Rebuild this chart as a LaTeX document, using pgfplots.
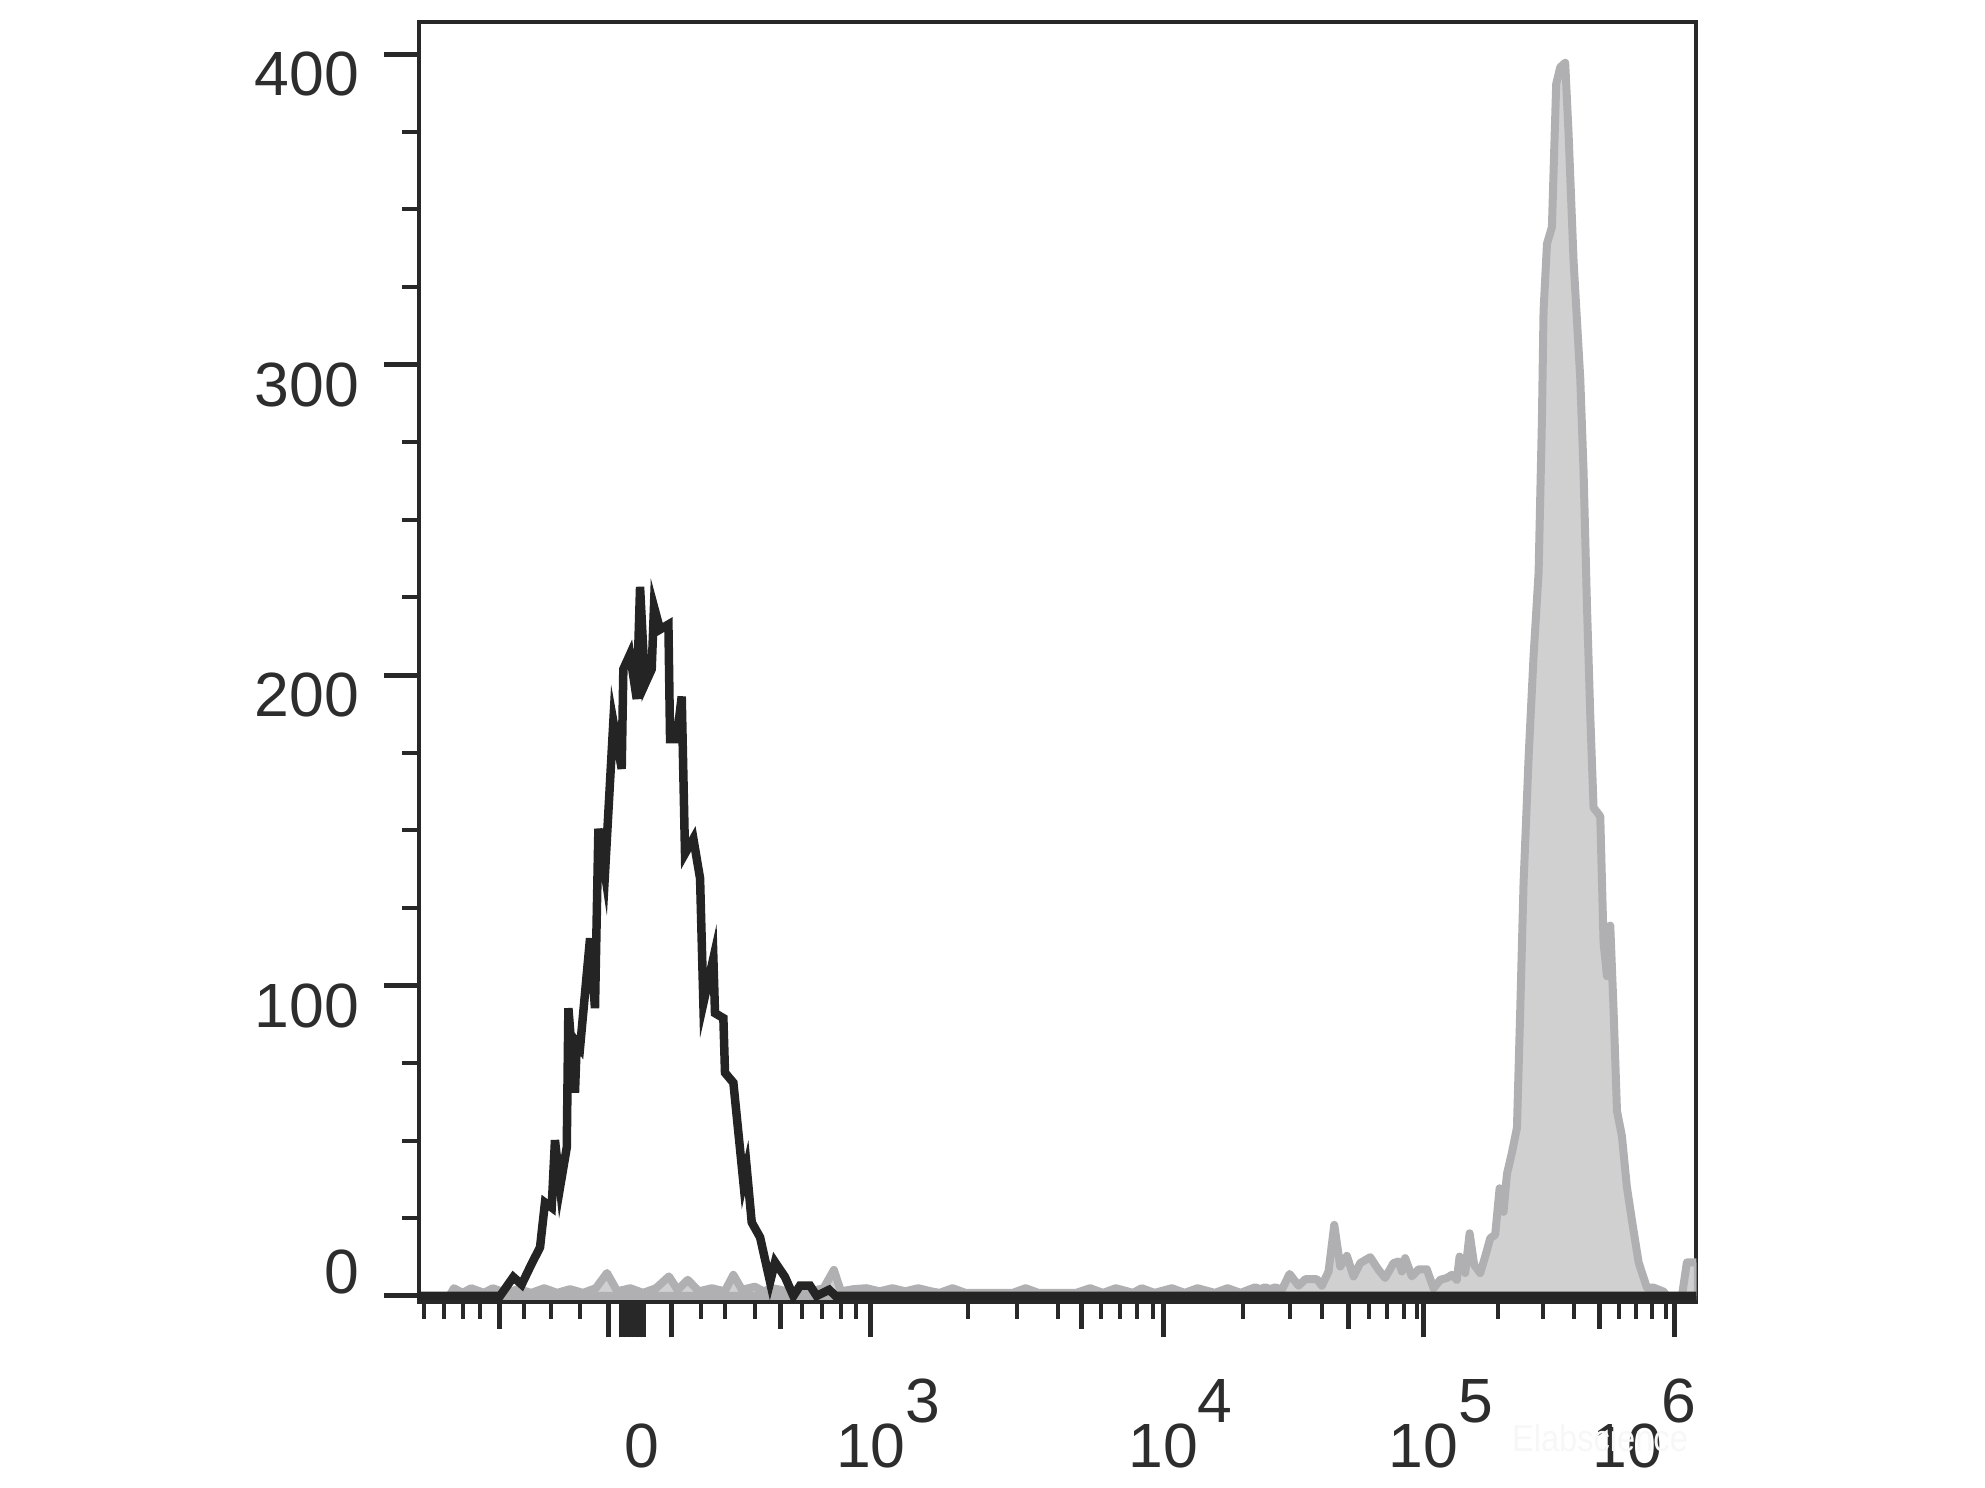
\documentclass[border=0pt]{standalone}
\usepackage{fontspec}
\setmainfont{Liberation Sans}
\usepackage{pgfplots}
\pgfplotsset{compat=1.18}
\definecolor{fillgray}{RGB}{208,208,208}
\definecolor{linegray}{RGB}{176,176,178}
\definecolor{histblack}{RGB}{36,36,36}
\definecolor{axisdark}{RGB}{40,40,40}
\definecolor{textdark}{RGB}{45,45,45}
\begin{document}
\begin{tikzpicture}
\path[use as bounding box] (-83.8pt,-37pt) rectangle (313.2pt,260.5pt);
\begin{axis}[
  at={(0,0)}, anchor=south west,
  scale only axis, width=255.5pt, height=256pt,
  xmin=331, xmax=1340, ymin=-2.1, ymax=410.2,
  axis line style={line width=0.8pt, draw=axisdark},
  tick align=outside,
  xtick pos=bottom, ytick pos=left,
  xtick={480.8,491,494.5,498,501.5,505,508,530.4,688,918.8,1124.5,1322.8},
  xticklabels={,,,,{\hspace*{3pt}0},,,,{10\rlap{\raisebox{9pt}{3}}},{10\rlap{\raisebox{9pt}{4}}},{10\rlap{\raisebox{9pt}{5}}},{10\rlap{\raisebox{9pt}{6}}\hspace*{19pt}}},
  minor xtick={334.8,350.5,365.4,379.0,414.3,435.3,458.4,553.5,572.5,596.3,633.6,649.2,664.2,676.4,764.7,803.4,836.0,869.9,884.8,898.4,910.6,981.9,1018.6,1044.4,1081.7,1095.3,1109.0,1119.1,1183.6,1218.9,1243.3,1278.7,1292.2,1304.5,1316.0},
  extra x ticks={394.6,616.6,854.3,1064.8,1263.7},
  extra x tick labels={{},{},{},{},{}},
  extra x tick style={major tick length=5.3pt},
  ytick={100,200,300,400},
  minor ytick={25,50,75,125,150,175,225,250,275,325,350,375},
  extra y ticks={0}, extra y tick labels={0},
  extra y tick style={yticklabel style={yshift=8.8pt}},
  major tick length=7pt, minor tick length=3.3pt,
  tick style={draw=axisdark},
  major tick style={line width=1pt},
  minor tick style={line width=0.8pt},
  ticklabel style={font=\fontsize{12.5}{14}\selectfont, text=textdark},
  xticklabel style={anchor=base, inner sep=0pt, yshift=-26pt},
  yticklabel style={anchor=east, yshift=-4pt, xshift=-1.5pt},
  /pgf/number format/assume math mode=true,
]
\addplot[fill=fillgray, draw=linegray, line width=1.6pt, line join=round] coordinates {
(355,0) (358.6,2.5) (365.4,1) (372.2,2.5) (382.4,1) (389.2,2.5) (399.4,1) (409.5,2.2) (419.7,1) (429.9,2.5)
(440.1,1) (450.3,2.2) (460.5,1) (470.6,2.5) (479.5,7.4) (487.6,1.5) (497.8,2.5) (508,1) (518.2,2.5) (528.4,6.3)
(535.2,2) (543.3,5.2) (552.1,1.5) (562.3,2.5) (572.5,1.5) (579.3,6.8) (586.1,2) (596.3,3) (603.1,1.5) (609.8,2.5)
(616.6,2) (623.4,1) (633.6,2.5) (640.4,1.5) (650.6,2.5) (658.7,8.4) (664.2,1.5) (674.3,2.2) (684.5,2.5) (694.7,1.5)
(704.9,2.5) (715.1,1.5) (725.3,2.5) (735.5,1.5) (742.2,1) (752.4,2.5) (762.6,1) (772,1) (782,1) (792,1) (800,1)
(810.1,2.5) (820.3,1) (830,1) (840,1) (850,1) (861,2.5) (871.3,1) (881.4,2.5) (895,1) (901.8,2.5) (912,1)
(925.6,2.5) (935.8,1) (945.9,2.5) (959.5,1) (969.7,2.5) (979.9,1) (987.5,2.2) (991.4,2.8) (995.4,2.2) (999.3,2.8)
(1003.3,2.2) (1007.2,2.8) (1012.5,2.0) (1018.6,7.1) (1025.7,3.3) (1031.0,5.4) (1040.2,5.4) (1044.1,3.3) (1049.4,7.9) (1053.9,22.9)
(1058.6,9.5) (1063.9,12.9) (1069.1,6.3) (1074.4,10.6) (1082.3,12.5) (1088.9,8.4) (1094.1,5.8) (1100.7,10.6) (1104.7,11.1) (1107.3,7.9)
(1109.9,12.2) (1115.2,6.3) (1120.5,8.6) (1127.0,8.6) (1132.3,2.5) (1137.6,5.2) (1142.8,5.8) (1146.8,6.8) (1150.7,5.2) (1152.9,12.7)
(1157.3,7.4) (1160.8,20.2) (1164.4,10.0) (1169.2,7.4) (1173.1,12.7) (1177.1,18.6) (1181.0,19.7) (1184.5,34.7) (1187.6,27.1) (1190.3,39.3)
(1194.2,46.1) (1198.2,54.2) (1200.8,92.2) (1203.4,132.8) (1207.4,173.5) (1211.3,206.0) (1215.3,233.1) (1217.9,281.9) (1219.2,317.2) (1221.9,338.9)
(1225.8,344.3) (1229.2,390.4) (1232.4,395.8) (1236.3,397.2) (1239.0,374.1) (1242.9,333.5) (1248.2,295.5) (1250.8,265.7) (1253.5,222.3) (1256.1,187.1)
(1258.7,157.3) (1264.0,154.5) (1266.6,113.9) (1269.3,103.0) (1271.9,119.3) (1274.5,92.2) (1277.2,59.6) (1281.1,51.5) (1285.0,35.2) (1289.0,24.4)
(1294.3,10.8) (1300.8,2.7) (1306.1,2.7) (1314.0,1.4) (1316.6,0) (1328.5,0) (1332.4,10.8) (1341,10.8)
} \closedcycle;
\addplot[histblack, line width=1.7pt] coordinates {
(331,0) (379.2,0) (395.0,0) (405.5,6.1) (412.1,3.7) (418.7,9.3) (426.6,15.7) (430.5,30.1) (435.8,28.5) (438.4,50.2)
(442.4,35.0) (447.7,47.8) (449.0,92.7) (454.2,65.5) (455.6,81.5) (458.2,80.0) (466.1,115.2) (470.0,92.7) (472.7,150.5) (477.9,136.1)
(484.5,185.0) (491.1,169.8) (492.4,201.9) (497.7,206.7) (503.0,192.3) (505.6,228.4) (509.5,197.1) (514.8,201.9) (516.6,222.0) (521.4,214.7)
(528.0,216.3) (529.3,179.4) (534.5,179.4) (538.5,193.1) (541.1,142.5) (547.7,147.3) (553.0,134.5) (555.6,94.3) (563.5,108.8) (564.8,91.1)
(571.4,89.5) (572.7,71.9) (579.3,68.7) (587.2,36.6) (589.8,41.4) (593.8,23.7) (600.4,18.9) (608.3,4.5) (612.2,10.9) (620.1,6.1)
(626.7,0) (631.9,3.3) (639.9,3.3) (645.1,0) (655,2) (660,0) (1340,0)
};
\end{axis}
\node[text=black!3, font=\fontsize{7.5}{9}\selectfont] at (236.2pt,-27.1pt) {\scalebox{0.87}[1]{Elabscience}};
\end{tikzpicture}
\end{document}
